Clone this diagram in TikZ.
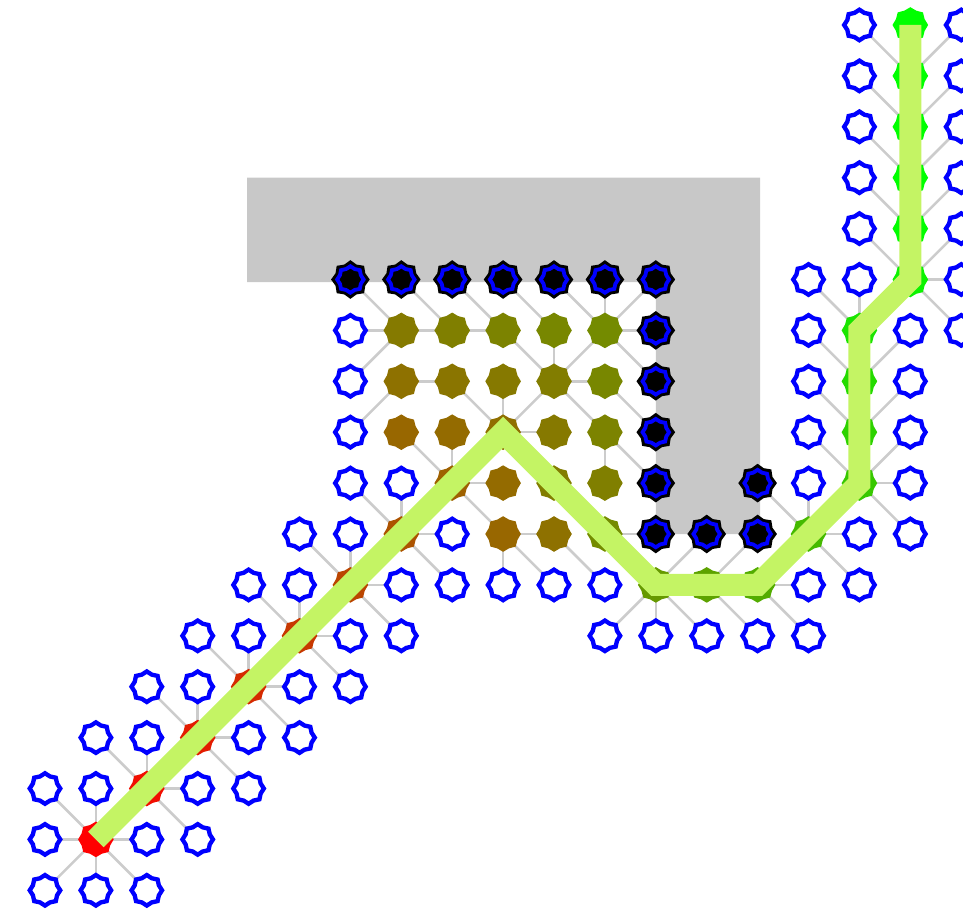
\documentclass[tikz,border=0pt]{standalone}
\usepackage{xcolor}
\usepackage{tikz}
\usetikzlibrary{shapes.geometric}

\definecolor{obstgray}{RGB}{200,200,200}
\definecolor{edgegray}{RGB}{204,204,204}
\definecolor{routegreen}{RGB}{196,244,100}

\pgfdeclarelayer{back}
\pgfdeclarelayer{tree}
\pgfsetlayers{back,tree,main}

\begin{document}
\begin{tikzpicture}[
    x=1cm, y=-1cm,
    frontier/.style={star, star points=8, star point ratio=1.17, minimum size=0.6cm, inner sep=0pt, draw=blue, line width=0.085cm, fill=white},
    visited/.style={star, star points=8, star point ratio=1.15, minimum size=0.7cm, inner sep=0pt, fill=heat},
    blocked/.style={star, star points=8, star point ratio=1.2, minimum size=0.76cm, inner sep=0pt, fill=black,
        path picture={\node[star, star points=8, star point ratio=1.17, minimum size=0.52cm, inner sep=0pt, draw=blue, line width=0.075cm] at (path picture bounding box.center) {};}},
    treeedge/.style={draw=edgegray, line width=0.05cm},
    route/.style={draw=routegreen, line width=0.43cm, line join=miter}
]
\useasboundingbox (-0.884,-0.491) rectangle (18.035,17.446);

\begin{pgfonlayer}{back}
\fill[obstgray] (3.97,3) -- (14.05,3) -- (14.05,10) -- (12,10) -- (12,5.05) -- (3.97,5.05) -- cycle;
\end{pgfonlayer}

% open list
\foreach \c/\r in {16/0,18/0,16/1,18/1,16/2,18/2,16/3,18/3,16/4,18/4,15/5,16/5,18/5,
    6/6,15/6,17/6,18/6,6/7,15/7,17/7,6/8,15/8,17/8,6/9,7/9,15/9,17/9,
    5/10,6/10,8/10,16/10,17/10,4/11,5/11,7/11,8/11,9/11,10/11,11/11,15/11,16/11,
    3/12,4/12,6/12,7/12,11/12,12/12,13/12,14/12,15/12,2/13,3/13,5/13,6/13,
    1/14,2/14,4/14,5/14,0/15,1/15,3/15,4/15,0/16,2/16,3/16,0/17,1/17,2/17}
    \node[frontier] (n-\c-\r) at (\c,\r) {};

% closed list
\foreach \c/\r in {7/6,8/6,9/6,10/6,11/6,7/7,8/7,9/7,10/7,11/7,7/8,8/8,10/8,11/8,9/9,11/9,9/10,10/10} {
    \pgfmathsetmacro\gv{min(1,(1.4142*min(abs(\c-1),abs(\r-16))+abs(abs(\c-1)-abs(\r-16)))/26)}
    \pgfmathsetmacro\rv{1-\gv}
    \definecolor{heat}{rgb}{\rv,\gv,0}
    \node[visited] (n-\c-\r) at (\c,\r) {};
}

% path cells
\foreach \c/\r/\g in {1/16/0,2/15/1.41,3/14/2.83,4/13/4.24,5/12/5.66,6/11/7.07,7/10/8.49,8/9/9.9,9/8/11.31,
    10/9/12.73,11/10/14.14,12/11/15.56,13/11/16.56,14/11/17.56,15/10/18.97,16/9/20.38,16/8/21.38,
    16/7/22.38,16/6/23.38,17/5/24.8,17/4/25.8,17/3/26.8,17/2/27.8,17/1/28.8,17/0/29.8} {
    \pgfmathsetmacro\gv{min(1,\g/26)}
    \pgfmathsetmacro\rv{1-\gv}
    \definecolor{heat}{rgb}{\rv,\gv,0}
    \node[visited] (n-\c-\r) at (\c,\r) {};
}

% obstacle cells
\foreach \c/\r in {6/5,7/5,8/5,9/5,10/5,11/5,12/5,12/6,12/7,12/8,12/9,12/10,13/10,14/10,14/9}
    \node[blocked] (n-\c-\r) at (\c,\r) {};

\begin{pgfonlayer}{tree}
\foreach \a/\b in {0-15/1-16,1-15/1-16,0-16/1-16,2-16/1-16,0-17/1-16,1-17/1-16,2-17/1-16,
    1-14/2-15,2-14/2-15,3-15/2-15,3-16/2-15,2-13/3-14,3-13/3-14,4-14/3-14,4-15/3-14,
    3-12/4-13,4-12/4-13,5-13/4-13,5-14/4-13,4-11/5-12,5-11/5-12,6-12/5-12,6-13/5-12,
    5-10/6-11,6-10/6-11,7-11/6-11,7-12/6-11,6-9/7-10,7-9/7-10,8-10/7-10,8-11/7-10,
    7-8/8-9,8-8/8-9,9-9/8-9,9-10/8-9,8-7/9-8,9-7/9-8,10-7/9-8,10-8/9-8,
    9-6/10-7,10-6/10-7,11-6/10-7,11-7/10-7,11-8/10-7,
    10-5/11-6,11-5/11-6,12-5/11-6,12-6/11-6,12-7/11-6,
    9-5/10-6,8-5/9-6,8-6/9-6,7-5/8-6,7-6/8-6,7-7/8-7,
    6-5/7-6,6-6/7-6,6-7/7-6,6-8/7-7,12-8/11-7,12-9/11-8,11-9/11-8,
    10-10/9-10,9-11/9-10,10-11/9-10,11-11/10-10,12-10/11-10,
    11-12/12-11,12-12/12-11,13-12/12-11,13-10/12-11,14-12/13-11,14-10/13-11,
    15-11/14-11,15-12/14-11,14-9/15-10,15-9/15-10,16-10/15-10,16-11/15-10,
    15-8/16-9,17-8/16-9,17-9/16-9,17-10/16-9,15-7/16-8,17-7/16-8,15-6/16-7,17-6/16-7,
    15-5/16-6,16-5/16-6,16-4/17-5,18-4/17-5,18-5/17-5,18-6/17-5,
    16-3/17-4,18-3/17-4,16-2/17-3,18-2/17-3,16-1/17-2,18-1/17-2,16-0/17-1,18-0/17-1}
    \draw[treeedge] (n-\a.center) -- (n-\b.center);
\end{pgfonlayer}

\draw[route] (n-1-16.center) -- (n-9-8.center) -- (n-12-11.center) -- (n-14-11.center)
    -- (n-16-9.center) -- (n-16-6.center) -- (n-17-5.center) -- (n-17-0.center);

\end{tikzpicture}
\end{document}
